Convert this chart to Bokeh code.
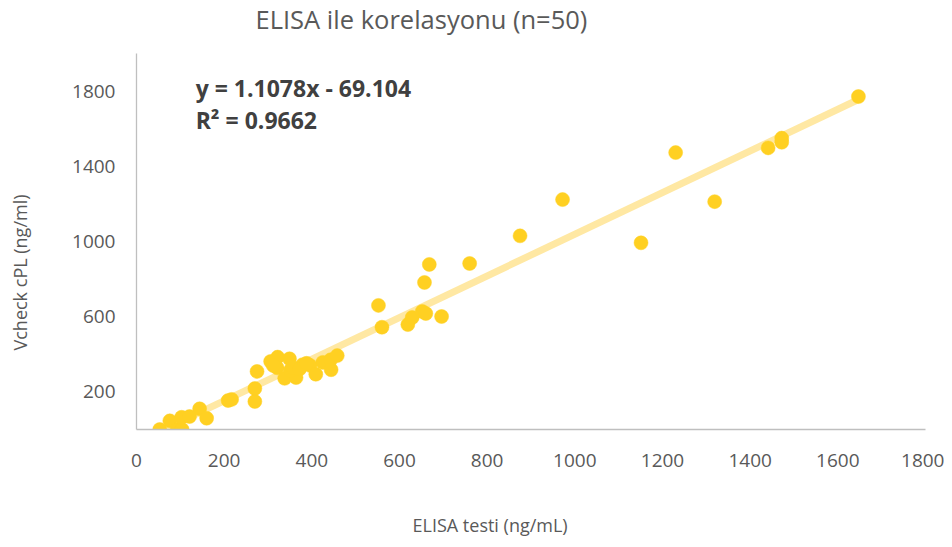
import numpy as np
from bokeh.plotting import figure
from bokeh.models import Range1d, FixedTicker, Label, ColumnDataSource, Title
from bokeh.embed import file_html
from bokeh.resources import INLINE

# ---- data ----
elisa = [53, 76, 93, 104, 103, 121, 144, 160, 209, 217,
         270, 270, 275, 306, 322, 349, 321, 338, 364, 351,
         379, 396, 409, 425, 443, 444, 458, 312, 356, 372,
         552, 560, 619, 629, 652, 660, 657, 668, 696, 760,
         875, 972, 1151, 1230, 1319, 1441, 1472, 1472, 1647, 388]
vcheck = [0, 46, 0, 0, 65, 69, 110, 60, 154, 160,
          149, 218, 309, 362, 385, 376, 328, 272, 276, 314,
          345, 341, 294, 357, 371, 318, 393, 340, 330, 322,
          660, 544, 558, 596, 628, 617, 782, 878, 601, 883,
          1030, 1223, 993, 1473, 1212, 1498, 1550, 1528, 1771, 352]
slope = 1.1078
intercept = -69.104
r2 = 0.9662
x_ticks = [0, 200, 400, 600, 800, 1000, 1200, 1400, 1600, 1800]
y_ticks = [200, 600, 1000, 1400, 1800]
title_text = "ELISA ile korelasyonu (n=50)"
x_label = "ELISA testi (ng/mL)"
y_label = "Vcheck cPL (ng/ml)"

W, H = 944, 541
p = figure(width=W, height=H, output_backend="svg", toolbar_location=None,
           x_range=Range1d(0, 1800), y_range=Range1d(0, 2000),
           min_border_left=136, min_border_right=W - 925,
           min_border_top=53, min_border_bottom=H - 429)
p.outline_line_color = None
p.xgrid.grid_line_color = None
p.ygrid.grid_line_color = None
p.background_fill_color = "white"
p.border_fill_color = "white"

for ax in (p.xaxis, p.yaxis):
    ax.axis_line_color = "#bfbfbf"
    ax.axis_line_width = 1.3
    ax.major_tick_line_color = None
    ax.minor_tick_line_color = None
    ax.major_tick_out = 0
    ax.major_tick_in = 0
    ax.major_label_text_color = "#595959"
    ax.major_label_text_font = "Open Sans"
    ax.major_label_text_font_size = "19px"
p.xaxis.ticker = FixedTicker(ticks=x_ticks)
p.yaxis.ticker = FixedTicker(ticks=y_ticks)
p.xaxis.major_label_standoff = 24
p.yaxis.major_label_standoff = 21

# trendline over the data span
x0, x1 = min(elisa), max(elisa)
p.line([x0, x1], [slope * x0 + intercept, slope * x1 + intercept],
       line_color="#ffe8a3", line_width=7)

src = ColumnDataSource(dict(x=elisa, y=vcheck))
p.scatter("x", "y", source=src, size=14, fill_color="#ffd022",
          line_color="#ffd022", line_width=0.5)


def spacer(n):
    return Title(text=" ", text_font_size="1px", standoff=n,
                 text_color="white")


def side_title(text, size, offset, valign="middle"):
    return Title(text=text, align="left", offset=offset,
                 vertical_align=valign, standoff=0,
                 text_font="Open Sans", text_font_style="normal",
                 text_font_size=size, text_color="#595959")


# title (above), x label (below), y label (left), with spacers next to the frame
p.add_layout(spacer(13), "above")
p.add_layout(side_title(title_text, "25.5px", 119, "top"), "above")
p.add_layout(spacer(39), "below")
p.add_layout(side_title(x_label, "18px", 276), "below")
p.add_layout(spacer(34), "left")
p.add_layout(side_title(y_label, "18px", 79), "left")

p.add_layout(Label(x=135, y=1816, text=f"y = {slope}x - {abs(intercept)}",
                   text_align="left", text_baseline="middle",
                   text_font="Open Sans", text_font_style="bold",
                   text_font_size="23px", text_color="#404040"))
p.add_layout(Label(x=135, y=1646, text=f"R\u00b2 = {r2}",
                   text_align="left", text_baseline="middle",
                   text_font="Open Sans", text_font_style="bold",
                   text_font_size="23px", text_color="#404040"))

open("out.html", "w").write(file_html(p, INLINE))
